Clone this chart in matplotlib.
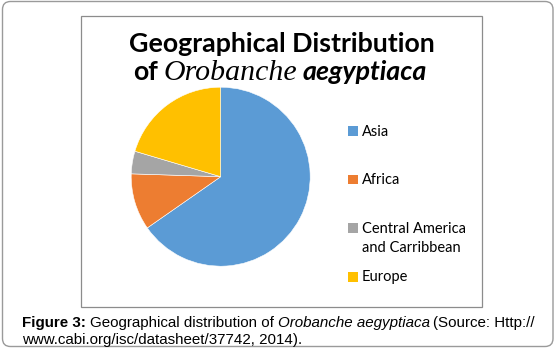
import matplotlib.pyplot as plt
from matplotlib.patches import FancyBboxPatch, Rectangle

# data
regions = ["Asia", "Africa", "Central America\nand Carribbean", "Europe"]
counts = [32, 5, 2, 10]
colors = ["#5B9BD5", "#ED7D31", "#A5A5A5", "#FFC000"]

W, H = 556, 349

fig = plt.figure(figsize=(W / 100, H / 100), dpi=100)
bg = fig.add_axes([0, 0, 1, 1])
bg.set_xlim(0, W)
bg.set_ylim(H, 0)
bg.axis("off")

# outer rounded frame and the chart box
bg.add_patch(FancyBboxPatch((2.5, 1.5), 550.5, 345,
                            boxstyle="round,pad=0,rounding_size=8",
                            fc="white", ec="#9a9a9a", lw=1))
bg.add_patch(Rectangle((80.5, 15.5), 401.5, 291.5, fc="white", ec="#8c8c8c", lw=0.9))

renderer = fig.canvas.get_renderer()


def draw_line(parts, y, x=None, center=None):
    # parts: list of (text, props, gap_after)
    texts = []
    total = 0
    for s, props, gap in parts:
        t = bg.text(0, y, s, va="baseline", ha="left", **props)
        w = t.get_window_extent(renderer).width
        texts.append((t, w, gap))
        total += w + gap
    if center is not None:
        x = center - total / 2
    for t, w, gap in texts:
        t.set_x(x)
        x += w + gap


# title
sans_b = dict(family="Lato", weight="bold", fontsize=19.3, color="black")
bg.text(282, 52, "Geographical Distribution", ha="center", va="baseline", **sans_b)
draw_line([
    ("of", sans_b, 6),
    ("Orobanche", dict(family="Liberation Serif", style="italic", fontsize=21.5, color="black"), 6),
    ("aegyptiaca", dict(family="Lato", weight="bold", style="italic", fontsize=19.3, color="black"), 0),
], 80, center=280)

# pie
cx, cy, r = 220.7, 176.7, 89.5
pax = fig.add_axes([(cx - r) / W, 1 - (cy + r) / H, 2 * r / W, 2 * r / H])
pax.pie(counts, colors=colors, startangle=90, counterclock=False,
        wedgeprops=dict(edgecolor="white", linewidth=0.4))
pax.set_xlim(-1, 1)
pax.set_ylim(-1, 1)
pax.axis("off")

# legend
leg_y = [135.7, 184, 232.7, 281.5]
for lab, col, yb in zip(regions, colors, leg_y):
    bg.add_patch(Rectangle((348, yb - 9.5), 10, 9.5, fc=col, ec="none"))
    for i, line in enumerate(lab.split("\n")):
        bg.text(361.5, yb + 19 * i, line, family="Lato", fontsize=10.5,
                va="baseline", ha="left")

# caption
cap = dict(family="Liberation Sans", fontsize=10.9, color="black")
draw_line([
    ("Figure 3:", dict(cap, weight="bold"), 3.8),
    ("Geographical distribution of", cap, 3.8),
    ("Orobanche aegyptiaca", dict(cap, style="italic"), 3.8),
    ("(Source: Http://", cap, 0),
], 326.7, x=22.3)
bg.text(22.3, 344, "www.cabi.org/isc/datasheet/37742, 2014).", va="baseline", **cap)

fig.savefig("out.png", dpi=100)
